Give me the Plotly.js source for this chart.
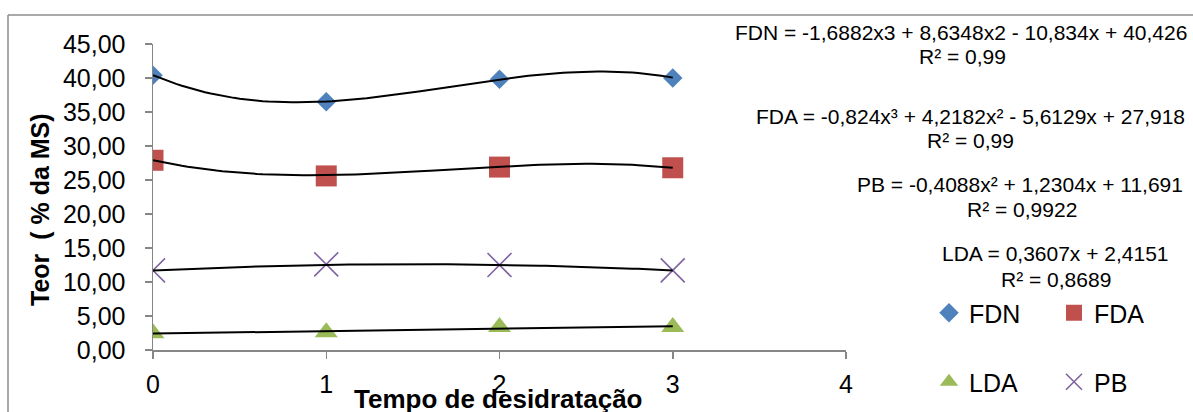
<!DOCTYPE html>
<html>
<head>
<meta charset="utf-8">
<script src="https://cdn.plot.ly/plotly-3.0.1.min.js"></script>
<style>
html,body{margin:0;padding:0;background:#fff;}
#chart{width:1193px;height:412px;}
</style>
</head>
<body>
<div id="chart"></div>
<script>
// ---- data ----
const tempo = [0, 1, 2, 3];
const fdn = [40.4, 36.5, 39.8, 40.0];
const fda = [27.9, 25.6, 26.9, 26.8];
const pb  = [11.7, 12.6, 12.5, 11.7];
const lda = [2.45, 2.6, 3.4, 3.4];

// trendline coefficients (highest power first), as printed on the chart
const fdnCoef = [-1.6882, 8.6348, -10.834, 40.426];
const fdaCoef = [-0.824, 4.2182, -5.6129, 27.918];
const pbCoef  = [-0.4088, 1.2304, 11.691];
const ldaCoef = [0.3607, 2.4151];

const seriesNames = ["FDN", "FDA", "LDA", "PB"];
const eqLines = [
  ["FDN = -1,6882x3 + 8,6348x2 - 10,834x + 40,426", "R² = 0,99"],
  ["FDA = -0,824x³ + 4,2182x² - 5,6129x + 27,918", "R² = 0,99"],
  ["PB = -0,4088x² + 1,2304x + 11,691", "R² = 0,9922"],
  ["LDA = 0,3607x + 2,4151", "R² = 0,8689"]
];
const xTitle = "Tempo de desidratação";
const yTitle = "Teor  ( % da MS)";

// ---- helpers ----
function polyval(c, x){ let v = 0; for (const k of c) v = v*x + k; return v; }
const nSteps = 90;
const xs = [];
for (let i = 0; i <= nSteps; i++) xs.push(3*i/nSteps);
function trend(c){ return {x: xs, y: xs.map(v => polyval(c, v)), mode:'lines',
  line:{color:'#000', width:2, shape:'linear'}, showlegend:false, hoverinfo:'skip'}; }

const FONT = "Liberation Sans, Arial, sans-serif";

const traces = [
  {x: tempo, y: fdn, name: seriesNames[0], mode:'markers', legend:'legend',
   marker:{symbol:'diamond', size:15, color:'#4F81BD'}},
  {x: tempo, y: fda, name: seriesNames[1], mode:'markers', legend:'legend',
   marker:{symbol:'square', size:21, color:'#C0504D'}},
  {x: tempo, y: lda, name: seriesNames[2], mode:'markers', legend:'legend2',
   marker:{symbol:'triangle-up', size:20, color:'#9BBB59'}},
  {x: tempo, y: pb, name: seriesNames[3], mode:'markers', legend:'legend2',
   marker:{symbol:'x-thin', size:24, color:'#8064A2', line:{color:'#8064A2', width:1.6}}},
  trend(fdnCoef), trend(fdaCoef), trend(pbCoef), trend(ldaCoef)
];

// layout geometry (pixels) -> paper coords
const L = 153, R = 846, T = 44, B = 350, W = 1193, H = 412;
const px = v => (v - L) / (R - L);
const py = v => (B - v) / (B - T);

const eqPos = [[961, 33, 962, 57], [970, 116, 970, 140], [1020, 184, 1022, 209], [1055, 253, 1056, 279]];
const annotations = [];
eqLines.forEach((ln, i) => {
  const p = eqPos[i];
  annotations.push({xref:'paper', yref:'paper', x:px(p[0]), y:py(p[1]), xanchor:'center', yanchor:'middle',
    text: ln[0], showarrow:false, font:{family:FONT, size:21, color:'#000'}});
  annotations.push({xref:'paper', yref:'paper', x:px(p[2]), y:py(p[3]), xanchor:'center', yanchor:'middle',
    text: ln[1], showarrow:false, font:{family:FONT, size:21, color:'#000'}});
});
// axis titles
annotations.push({xref:'paper', yref:'paper', x:px(40), y:py(209), xanchor:'center', yanchor:'middle',
  textangle:-90, text:'<b>'+yTitle+'</b>', showarrow:false, font:{family:FONT, size:25, color:'#000'}});
annotations.push({xref:'paper', yref:'paper', x:px(498.5), y:py(399), xanchor:'center', yanchor:'middle',
  text:'<b>'+xTitle+'</b>', showarrow:false, font:{family:FONT, size:26, color:'#000'}});

const legendBase = {orientation:'h', xanchor:'left', yanchor:'middle', bgcolor:'rgba(0,0,0,0)',
  font:{family:FONT, size:25, color:'#000'}, itemwidth:30, entrywidth:80, entrywidthmode:'pixels',
  traceorder:'normal'};

const layout = {
  width: W, height: H,
  margin: {l: L, r: W - R, t: T, b: H - B, pad: 0, autoexpand: false},
  paper_bgcolor:'#fff', plot_bgcolor:'#fff',
  separators: ', ',
  font:{family:FONT, color:'#000'},
  xaxis: {range:[0,4], tickvals:[0,1,2,3,4], showgrid:false, zeroline:false,
    showline:true, linecolor:'#868686', linewidth:1.5, ticks:'outside', ticklen:7, tickcolor:'#868686',
    tickwidth:1.5, tickfont:{family:FONT, size:25, color:'#000'}, ticklabelstandoff:4},
  yaxis: {range:[0,45], dtick:5, tick0:0, tickformat:'.2f', showgrid:false, zeroline:false,
    showline:true, linecolor:'#868686', linewidth:1.5, ticks:'outside', ticklen:7, tickcolor:'#868686',
    tickwidth:1.5, tickfont:{family:FONT, size:25, color:'#000'}, ticklabelstandoff:14},
  legend: Object.assign({}, legendBase, {x: px(929), y: py(313)}),
  legend2: Object.assign({}, legendBase, {x: px(929), y: py(382)}),
  annotations: annotations,
  shapes: [
    {type:'line', xref:'paper', yref:'paper', x0:px(8), y0:py(15), x1:px(1200), y1:py(15),
     line:{color:'#8c8c8c', width:1.5}},
    {type:'line', xref:'paper', yref:'paper', x0:px(8), y0:py(15), x1:px(8), y1:py(420),
     line:{color:'#8c8c8c', width:1.5}}
  ],
  showlegend: true
};

Plotly.newPlot('chart', traces, layout, {displayModeBar:false, staticPlot:true});
</script>
</body>
</html>
